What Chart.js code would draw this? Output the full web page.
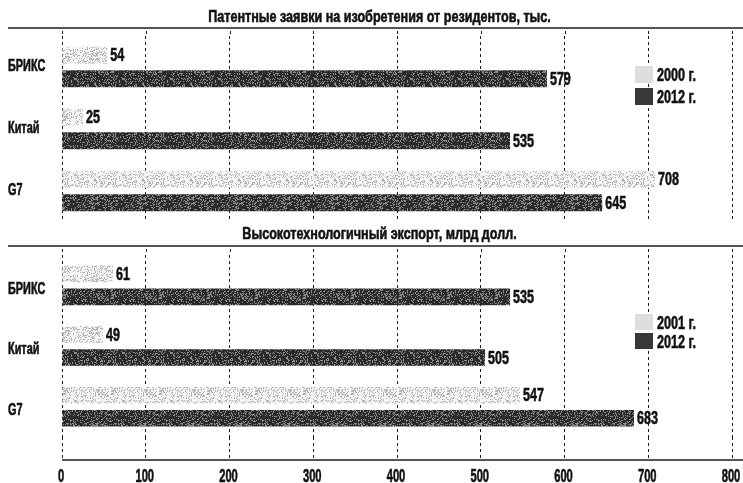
<!DOCTYPE html>
<html>
<head>
<meta charset="utf-8">
<script src="https://cdn.jsdelivr.net/npm/chart.js@4.4.1/dist/chart.umd.min.js"></script>
<style>
  body { margin: 0; background: #fff; width: 743px; height: 483px; overflow: hidden; position: relative; }
  #top { position: absolute; left: 0; top: 0; width: 743px; height: 226px; }
  #bottom { position: absolute; left: 0; top: 226px; width: 743px; height: 257px; }
</style>
</head>
<body>
<div id="top"><canvas id="patents"></canvas></div>
<div id="bottom"><canvas id="exports"></canvas></div>
<script>
// values
const regions = ['БРИКС', 'Китай', 'G7'];
const patents2000 = [54, 25, 708];
const patents2012 = [579, 535, 645];
const exports2001 = [61, 49, 547];
const exports2012 = [535, 505, 683];
const xTicks = [0, 100, 200, 300, 400, 500, 600, 700, 800];

const FONT = '"Liberation Sans", Arial, sans-serif';
const INK = '#111';
const GRID = '#1c1c1c';

Chart.defaults.animation = false;

// speckled fill like the printed original (fixed hash, not random)
function speckle(base, dot, density) {
  const c = document.createElement('canvas');
  c.width = c.height = 48;
  const g = c.getContext('2d');
  g.fillStyle = base;
  g.fillRect(0, 0, 48, 48);
  g.fillStyle = dot;
  for (let y = 0; y < 48; y++) {
    for (let x = 0; x < 48; x++) {
      const h = Math.abs(Math.sin(x * 12.9898 + y * 78.233) * 43758.5453) % 1;
      if (h < density) g.fillRect(x, y, 1, 1);
    }
  }
  return g.createPattern(c, 'repeat');
}
const LIGHT = speckle('#f4f4f4', '#b4b4b4', 0.28);
const DARK = speckle('#2a2a2a', '#8c8c8c', 0.26);
const LIGHT_KEY = '#dddddd';
const DARK_KEY = '#383838';

// no condensed face is installed, so the text is squeezed by hand
function text(ctx, str, x, y, align, size, squeeze) {
  ctx.save();
  ctx.translate(x, y);
  ctx.scale(squeeze, 1);
  ctx.font = 'bold ' + size + 'px ' + FONT;
  ctx.textAlign = align;
  ctx.textBaseline = 'middle';
  ctx.fillStyle = INK;
  ctx.strokeStyle = INK;
  ctx.lineWidth = 0.6;
  ctx.fillText(str, 0, 0);
  ctx.strokeText(str, 0, 0);
  ctx.restore();
}

// title, rule, labels, legend and baseline
const panelDecor = {
  id: 'panelDecor',
  afterDraw(chart, args, opts) {
    const ctx = chart.ctx;
    const w = chart.width;
    const area = chart.chartArea;
    const xs = chart.scales.x;
    const ys = chart.scales.y;
    ctx.save();

    text(ctx, opts.title, w / 2 + 8, opts.titleY, 'center', 17, 0.74);

    ctx.strokeStyle = GRID;
    ctx.lineWidth = 1.5;
    ctx.beginPath();
    ctx.moveTo(8, opts.ruleY);
    ctx.lineTo(w, opts.ruleY);
    ctx.stroke();

    // grid lines reach up to the rule
    ctx.lineWidth = 1;
    ctx.setLineDash([3, 3]);
    xTicks.forEach(v => {
      const x = Math.round(xs.getPixelForValue(v)) + 0.5;
      ctx.beginPath();
      ctx.moveTo(x, opts.ruleY + 3);
      ctx.lineTo(x, area.top);
      ctx.stroke();
    });
    ctx.setLineDash([]);

    if (opts.baseline) {
      const y = area.bottom + chart.options.scales.x.grid.tickLength;
      ctx.lineWidth = 1.5;
      ctx.beginPath();
      ctx.moveTo(area.left, y);
      ctx.lineTo(w, y);
      ctx.stroke();
      xTicks.forEach(v => text(ctx, String(v), xs.getPixelForValue(v) - 1, y + 17, 'center', 18, 0.62));
    }

    regions.forEach((r, i) => text(ctx, r, 8, ys.getPixelForTick(i) + opts.labelShift, 'left', 16, 0.68));

    // value labels at the bar ends
    chart.data.datasets.forEach((ds, i) => {
      chart.getDatasetMeta(i).data.forEach((bar, j) => {
        text(ctx, String(ds.data[j]), bar.x + 3, bar.y + 1, 'left', 19, 0.66);
      });
    });

    // legend
    const keys = [LIGHT_KEY, DARK_KEY];
    chart.data.datasets.forEach((ds, i) => {
      const y = opts.legendY + i * opts.legendStep;
      ctx.fillStyle = keys[i];
      ctx.fillRect(opts.legendX, y, 18, opts.legendBox);
      text(ctx, ds.label, opts.legendX + 22, y + opts.legendBox / 2 + 2, 'left', 18, 0.7);
    });
    ctx.restore();
  }
};

function panel(canvasId, series, labels, decor, xGrid, pad) {
  return new Chart(document.getElementById(canvasId), {
    type: 'bar',
    data: {
      labels: regions,
      datasets: [
        { label: labels[0], data: series[0], backgroundColor: LIGHT },
        { label: labels[1], data: series[1], backgroundColor: DARK }
      ]
    },
    options: {
      indexAxis: 'y',
      responsive: true,
      maintainAspectRatio: false,
      categoryPercentage: 0.76,
      barPercentage: 0.72,
      layout: { padding: pad },
      plugins: {
        legend: { display: false },
        tooltip: { enabled: false },
        panelDecor: decor
      },
      scales: {
        x: {
          min: 0,
          max: 800,
          afterBuildTicks: s => { s.ticks = xTicks.map(v => ({ value: v })); },
          ticks: { display: false },
          border: { display: false, dash: [3, 3] },
          grid: xGrid
        },
        y: {
          afterFit: s => { s.width = 54; },
          grid: { display: false },
          border: { display: false },
          ticks: { display: false }
        }
      }
    },
    plugins: [panelDecor]
  });
}

panel('patents', [patents2000, patents2012], ['2000 г.', '2012 г.'],
  { title: 'Патентные заявки на изобретения от резидентов, тыс.', titleY: 17, ruleY: 28,
    legendX: 635, legendY: 66, legendBox: 17, legendStep: 22, labelShift: 0 },
  { color: GRID, lineWidth: 1, drawTicks: false },
  { top: 36, left: 8, right: 11, bottom: 4 });

panel('exports', [exports2001, exports2012], ['2001 г.', '2012 г.'],
  { title: 'Высокотехнологичный экспорт, млрд долл.', titleY: 8, ruleY: 20,
    legendX: 635, legendY: 88, legendBox: 16, legendStep: 19, labelShift: 4, baseline: true },
  { color: GRID, lineWidth: 1, drawTicks: true, tickLength: 23, tickBorderDash: [3, 3], tickColor: GRID },
  { top: 29, left: 8, right: 11, bottom: 23 });
</script>
</body>
</html>
